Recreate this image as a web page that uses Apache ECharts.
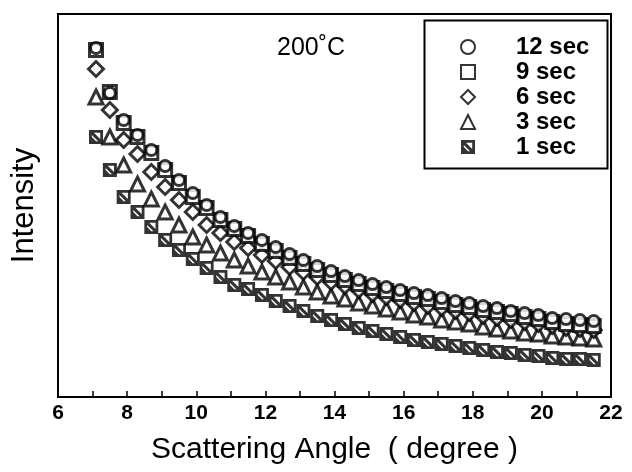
<!DOCTYPE html>
<html>
<head>
<meta charset="utf-8">
<script src="https://cdn.jsdelivr.net/npm/echarts@6/dist/echarts.min.js"></script>
<style>
html,body{margin:0;padding:0;background:#fff;}
#c{width:632px;height:472px;}
</style>
</head>
<body>
<div id="c"></div>
<script>
// Scattering angle (degree)
var angles = [7.1,7.5,7.9,8.3,8.7,9.1,9.5,9.9,10.3,10.7,11.1,11.5,11.9,12.3,12.7,13.1,13.5,13.9,14.3,14.7,15.1,15.5,15.9,16.3,16.7,17.1,17.5,17.9,18.3,18.7,19.1,19.5,19.9,20.3,20.7,21.1,21.5];
// Intensity (arbitrary units)
var sec12 = [349,304,277,262,247,231,217,204,192,180,171,164,157,150,143,137,131,126,121,117,113,110,107,104,102,99,96,94,91,89,86,84,82,79,78,77,76];
var sec9  = [347,305,274,260,244,227,214,200,189,177,168,161,153,146,139,133,127,122,117,113,109,106,103,100,98,95,92,90,87,85,83,80,78,75,73,72,71];
var sec6  = [328,287,257,243,225,210,197,185,172,164,155,149,142,136,130,125,120,115,111,107,103,100,97,94,91,89,86,84,81,79,77,75,73,71,69,68,67];
var sec3  = [300,260,232,213,198,185,172,160,152,144,137,131,125,120,115,110,105,101,98,94,91,88,85,82,80,77,75,73,70,68,66,64,63,61,60,59,58];
var sec1  = [260,227,200,185,170,157,147,138,129,120,112,108,102,96,91,86,81,77,73,69,66,63,60,57,55,53,51,49,47,45,44,42,41,39,38,38,37];
var xTicks = [6,8,10,12,14,16,18,20,22];
var legendNames = ['12 sec','9 sec','6 sec','3 sec','1 sec'];

function pairs(ys){ return angles.map(function(a,i){ return [a, ys[i]]; }); }

var font = 'Liberation Sans, Arial, Helvetica, sans-serif';
var hatch = 'path://M0 0H10V10H0Z M2 2V8H8V2Z M2 2L3.5 2L8 6.5L8 8L6.5 8L2 3.5Z M2 5L5 8L2 8Z';
var openStyle = {color:'#fff', borderColor:'#000', borderWidth:3};

var chart = echarts.init(document.getElementById('c'), null, {renderer:'canvas'});
chart.setOption({
  animation:false,
  backgroundColor:'#fff',
  grid:{left:58, top:14, width:553, height:383, show:true, borderColor:'#000', borderWidth:2, backgroundColor:'transparent'},
  title:{text:'200˚C', left:272, top:31, textStyle:{fontFamily:font, fontSize:25, fontWeight:'normal', color:'#000'}},
  legend:{
    orient:'vertical', left:460, top:35, itemWidth:14, itemHeight:14, itemGap:1, padding:0,
    textStyle:{fontFamily:font, fontSize:24, fontWeight:'bold', color:'#000', padding:[0,0,0,36]},
    data:legendNames
  },
  graphic:[{type:'rect', left:422, top:18, shape:{width:183, height:148}, style:{fill:'none', stroke:'#000', lineWidth:2}}],
  xAxis:{
    type:'value', min:6, max:22, interval:1,
    name:'Scattering Angle  ( degree )', nameLocation:'middle', nameGap:38,
    nameTextStyle:{fontFamily:font, fontSize:30, color:'#000'},
    axisLine:{show:false},
    axisTick:{show:true, inside:true, length:6, lineStyle:{color:'#000', width:1.5}},
    axisLabel:{fontFamily:font, fontSize:21, fontWeight:'bold', color:'#000', margin:6,
      formatter:function(v){ return xTicks.indexOf(v) >= 0 ? String(v) : ''; }},
    splitLine:{show:false}
  },
  yAxis:{
    type:'value', min:0, max:383,
    name:'Intensity', nameLocation:'middle', nameGap:18,
    nameTextStyle:{fontFamily:font, fontSize:31, color:'#000'},
    axisLine:{show:false}, axisTick:{show:false}, axisLabel:{show:false}, splitLine:{show:false}
  },
  series:[
    {name:'1 sec', type:'scatter', data:pairs(sec1), symbol:hatch, symbolSize:14, itemStyle:{color:'#000', borderWidth:0}},
    {name:'3 sec', type:'scatter', data:pairs(sec3), symbol:'triangle', symbolSize:14, itemStyle:openStyle},
    {name:'6 sec', type:'scatter', data:pairs(sec6), symbol:'diamond', symbolSize:15, itemStyle:openStyle},
    {name:'9 sec', type:'scatter', data:pairs(sec9), symbol:'rect', symbolSize:13, itemStyle:openStyle},
    {name:'12 sec', type:'scatter', data:pairs(sec12), symbol:'circle', symbolSize:11, itemStyle:openStyle}
  ]
});
</script>
</body>
</html>
